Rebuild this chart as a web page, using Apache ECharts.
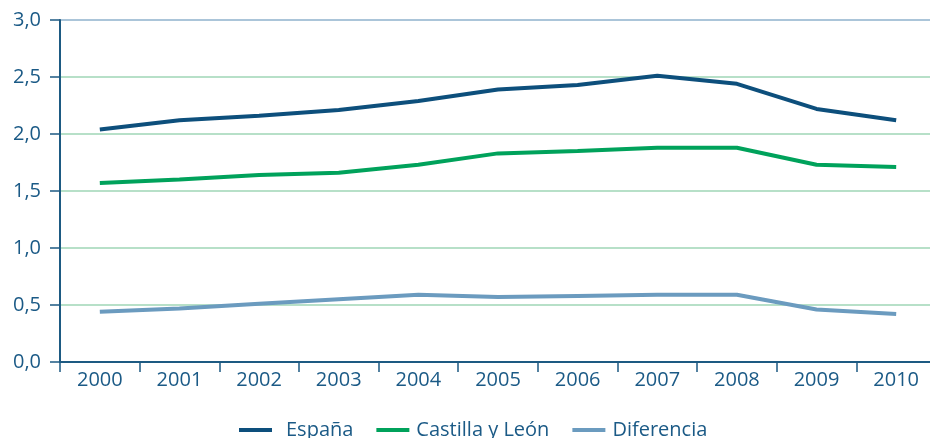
<!DOCTYPE html>
<html>
<head>
<meta charset="utf-8">
<script src="https://cdn.jsdelivr.net/npm/echarts@6/dist/echarts.min.js"></script>
<style>
  html, body { margin: 0; padding: 0; background: #fff; }
  #chart { width: 930px; height: 438px; }
</style>
</head>
<body>
<div id="chart"></div>
<script>
const years = ["2000", "2001", "2002", "2003", "2004", "2005", "2006", "2007", "2008", "2009", "2010"];
const espana = [2.04, 2.12, 2.16, 2.21, 2.29, 2.39, 2.43, 2.51, 2.44, 2.22, 2.12];
const castilla = [1.57, 1.60, 1.64, 1.66, 1.73, 1.83, 1.85, 1.88, 1.88, 1.73, 1.71];
const diferencia = [0.44, 0.47, 0.51, 0.55, 0.59, 0.57, 0.58, 0.59, 0.59, 0.46, 0.42];

const textColor = "#1b5a86";
const axisColor = "#1d5a82";
const font = "Open Sans";

const chart = echarts.init(document.getElementById("chart"));

const lineSeries = (name, data, color) => ({
  name: name,
  type: "line",
  data: data,
  symbol: "none",
  lineStyle: { color: color, width: 4 },
  itemStyle: { color: color }
});

chart.setOption({
  animation: false,
  grid: { left: 60, top: 20, right: -6, bottom: 76, outerBoundsMode: "none" },
  legend: {
    bottom: -7,
    left: 234,
    icon: "rect",
    itemWidth: 33,
    itemHeight: 4,
    itemGap: 23,
    textStyle: { color: textColor, fontSize: 20, fontFamily: font, padding: [0, 0, 0, 2] },
    data: [
      { name: "España", textStyle: { padding: [0, 0, 0, 9] } },
      { name: "Castilla y León" },
      { name: "Diferencia" }
    ]
  },
  xAxis: {
    type: "category",
    data: years,
    boundaryGap: true,
    axisLine: { lineStyle: { color: axisColor, width: 2 } },
    axisTick: { show: true, length: 10, lineStyle: { color: axisColor, width: 1.5 } },
    axisLabel: { color: textColor, fontSize: 20, fontFamily: font, margin: 8 }
  },
  yAxis: {
    type: "value",
    min: 0,
    max: 3,
    interval: 0.5,
    axisLine: { show: true, lineStyle: { color: axisColor, width: 2 } },
    axisTick: { show: true, length: 10, lineStyle: { color: axisColor, width: 1.5 } },
    axisLabel: {
      color: textColor, fontSize: 20, fontFamily: font, margin: 19,
      formatter: v => v.toFixed(1).replace(".", ",")
    },
    splitLine: {
      lineStyle: {
        color: ["#9fd6b6", "#9fd6b6", "#9fd6b6", "#9fd6b6", "#9fd6b6", "#9fd6b6", "#8fb2cc"],
        width: 1.5
      }
    }
  },
  series: [
    lineSeries("España", espana, "#0d4f7c"),
    lineSeries("Castilla y León", castilla, "#00a25b"),
    lineSeries("Diferencia", diferencia, "#6b9bbf")
  ]
});
</script>
</body>
</html>
